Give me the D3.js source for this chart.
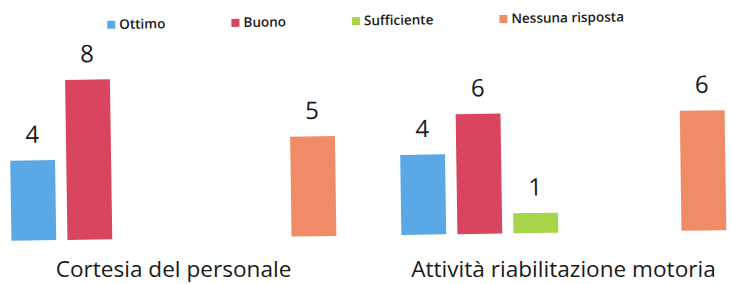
<!DOCTYPE html>
<html><head><meta charset="utf-8">
<script src="https://cdn.jsdelivr.net/npm/d3@7"></script>
<style>
html,body{margin:0;padding:0;background:#fff;}
svg{display:block;}
text{font-family:"Open Sans","Noto Sans",sans-serif;fill:#1a1a1a;}
</style></head>
<body>
<svg id="chart" width="732" height="284"></svg>
<script>
const groups = ["Cortesia del personale", "Attività riabilitazione motoria"];
const seriesNames = ["Ottimo", "Buono", "Sufficiente", "Insufficiente", "Scarso", "Nessuna risposta"];
const seriesColors = ["#5aa8e6", "#d9455f", "#a8d44a", "#8e7cc3", "#f2c14e", "#ef8c67"];
const ottimo = [4, 4];
const buono = [8, 6];
const sufficiente = [0, 1];
const insufficiente = [0, 0];
const scarso = [0, 0];
const nessunaRisposta = [5, 6];
const seriesValues = [ottimo, buono, sufficiente, insufficiente, scarso, nessunaRisposta];

const svg = d3.select("#chart");
const root = svg.append("g").attr("transform", "rotate(-0.85,366,142)");

const x0 = d3.scaleBand().domain(groups).range([10, 790]);
const x1 = d3.scaleBand().domain(seriesNames).range([0, 325]).paddingInner(0.2);
const y = d3.scaleLinear().domain([0, 10]).range([235.5, 35.5]);
const color = d3.scaleOrdinal().domain(seriesNames).range(seriesColors);

const data = [];
groups.forEach((g, gi) => {
  seriesNames.forEach((s, si) => {
    data.push({group: g, series: s, value: seriesValues[si][gi]});
  });
});

const shown = data.filter(d => d.value > 0);

root.selectAll("rect.bar").data(shown).join("rect")
  .attr("class", "bar")
  .attr("x", d => x0(d.group) + x1(d.series))
  .attr("y", d => y(d.value))
  .attr("width", x1.bandwidth())
  .attr("height", d => y(0) - y(d.value))
  .attr("fill", d => color(d.series));

root.selectAll("text.val").data(shown).join("text")
  .attr("class", "val")
  .attr("x", d => x0(d.group) + x1(d.series) + x1.bandwidth() / 2)
  .attr("y", d => y(d.value) - 17.5)
  .attr("text-anchor", "middle")
  .style("font-size", "24px")
  .text(d => d.value);

svg.selectAll("text.cat").data(groups).join("text")
  .attr("class", "cat")
  .attr("x", g => x0(g) + (x1.range()[1]) / 2 + 1)
  .attr("y", 277)
  .attr("text-anchor", "middle")
  .style("font-size", "22.6px")
  .text(g => g);

// legend: only series with data
const legendSeries = seriesNames.filter((s, si) => seriesValues[si].some(v => v > 0));
const legend = root.append("g").attr("class", "legend");
let lx = 109;
legendSeries.forEach(s => {
  const item = legend.append("g").attr("transform", `translate(${lx},0)`);
  item.append("rect").attr("x", 0).attr("y", 17).attr("width", 8).attr("height", 8)
    .attr("fill", color(s));
  const t = item.append("text").attr("x", 12).attr("y", 25.3)
    .style("font-size", "13.5px").style("font-weight", "600").text(s);
  lx += 12 + t.node().getComputedTextLength() + 66;
});
</script>
</body></html>
